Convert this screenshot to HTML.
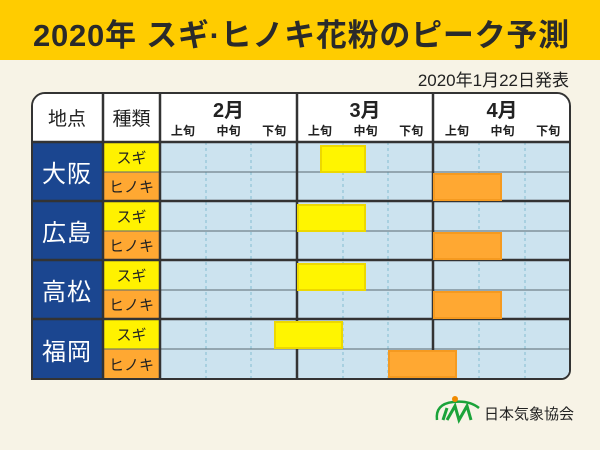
<!DOCTYPE html>
<html><head><meta charset="utf-8"><style>
*{margin:0;padding:0;box-sizing:border-box}
body{width:600px;height:450px;background:#F7F3E6;position:relative;overflow:hidden;font-family:"Liberation Sans","Noto Sans CJK JP",sans-serif;color:#222}
.a{position:absolute}
.c{display:flex;align-items:center;justify-content:center}
</style></head><body>
<div class="a" style="left:0;top:0;width:600px;height:60px;background:#FFCC00"></div>
<div class="a" style="left:33px;top:10px;font-size:31px;font-weight:bold;letter-spacing:0.75px;white-space:nowrap;color:#2a2a2a">2020年 スギ·ヒノキ花粉のピーク予測</div>
<div class="a" style="right:31px;top:66px;font-size:17px;white-space:nowrap">2020年1月22日発表</div>

<div class="a" style="left:31px;top:92px;width:540px;height:288px;border:2.5px solid #333;border-radius:14px 14px 10px 0;overflow:hidden;background:#fff">
<svg class="a" style="left:-2.5px;top:-2.5px" width="540" height="288">
<rect x="0" y="0" width="540" height="288" fill="#fff"/>
<rect x="0" y="50" width="72" height="238" fill="#1B4690"/>
<g fill="#FFF200"><rect x="72" y="50" width="57" height="30"/><rect x="72" y="109" width="57" height="30"/><rect x="72" y="168" width="57" height="30"/><rect x="72" y="227" width="57" height="30"/></g>
<g fill="#FFA832"><rect x="72" y="80" width="57" height="29"/><rect x="72" y="139" width="57" height="29"/><rect x="72" y="198" width="57" height="29"/><rect x="72" y="257" width="57" height="31"/></g>
<rect x="129" y="50" width="411" height="238" fill="#CCE3EF"/>
<g stroke="#9CC9DB" stroke-width="1.5" stroke-dasharray="3,3">
<line x1="175" y1="50" x2="175" y2="288"/><line x1="220" y1="50" x2="220" y2="288"/>
<line x1="312" y1="50" x2="312" y2="288"/><line x1="357" y1="50" x2="357" y2="288"/>
<line x1="448" y1="50" x2="448" y2="288"/><line x1="494" y1="50" x2="494" y2="288"/>
</g>
<g stroke="#5a6a72" stroke-width="1"><line x1="72" y1="80" x2="540" y2="80"/><line x1="72" y1="139" x2="540" y2="139"/><line x1="72" y1="198" x2="540" y2="198"/><line x1="72" y1="257" x2="540" y2="257"/></g>
<g stroke="#333" stroke-width="2.5">
<line x1="0" y1="50" x2="540" y2="50"/><line x1="0" y1="109" x2="540" y2="109"/><line x1="0" y1="168" x2="540" y2="168"/><line x1="0" y1="227" x2="540" y2="227"/>
<line x1="72" y1="0" x2="72" y2="288"/><line x1="129" y1="0" x2="129" y2="288"/><line x1="266" y1="0" x2="266" y2="288"/><line x1="402" y1="0" x2="402" y2="288"/>
</g>
<g fill="#FFF500" stroke="#EDD800" stroke-width="2">
<rect x="290" y="54" width="44" height="26"/><rect x="267" y="113" width="67" height="26"/><rect x="267" y="172" width="67" height="26"/><rect x="244" y="230" width="67" height="26"/></g>
<g fill="#FFA832" stroke="#F59A20" stroke-width="2">
<rect x="403" y="82" width="67" height="26"/><rect x="403" y="141" width="67" height="26"/><rect x="403" y="200" width="67" height="26"/><rect x="358" y="259" width="67" height="26"/></g>
</svg>
</div>
<div class="a" style="left:31px;top:92px;width:540px;height:288px;font-size:0">
<div class="a c" style="left:0;top:0;width:72px;height:50px;font-size:19px">地点</div>
<div class="a c" style="left:72px;top:0;width:57px;height:50px;font-size:19px">種類</div>
<div class="a" style="left:129px;top:2px;width:137px;text-align:center;font-size:20px;font-weight:bold">2月</div>
<div class="a" style="left:266px;top:2px;width:136px;text-align:center;font-size:20px;font-weight:bold">3月</div>
<div class="a" style="left:402px;top:2px;width:138px;text-align:center;font-size:20px;font-weight:bold">4月</div>
<div class="a" style="left:129px;top:30px;width:411px;font-size:12px;font-weight:bold;display:grid;grid-template-columns:repeat(9,1fr);text-align:center"><span>上旬</span><span>中旬</span><span>下旬</span><span>上旬</span><span>中旬</span><span>下旬</span><span>上旬</span><span>中旬</span><span>下旬</span></div>
<div class="a c" style="left:0;top:50px;width:72px;height:59px;font-size:24px;color:#fff;letter-spacing:1px">大阪</div>
<div class="a c" style="left:0;top:109px;width:72px;height:59px;font-size:24px;color:#fff;letter-spacing:1px">広島</div>
<div class="a c" style="left:0;top:168px;width:72px;height:59px;font-size:24px;color:#fff;letter-spacing:1px">高松</div>
<div class="a c" style="left:0;top:227px;width:72px;height:61px;font-size:24px;color:#fff;letter-spacing:1px">福岡</div>
<div class="a c" style="left:72px;top:50px;width:57px;height:30px;font-size:15px">スギ</div>
<div class="a c" style="left:72px;top:80px;width:57px;height:29px;font-size:15px">ヒノキ</div>
<div class="a c" style="left:72px;top:109px;width:57px;height:30px;font-size:15px">スギ</div>
<div class="a c" style="left:72px;top:139px;width:57px;height:29px;font-size:15px">ヒノキ</div>
<div class="a c" style="left:72px;top:168px;width:57px;height:30px;font-size:15px">スギ</div>
<div class="a c" style="left:72px;top:198px;width:57px;height:29px;font-size:15px">ヒノキ</div>
<div class="a c" style="left:72px;top:227px;width:57px;height:30px;font-size:15px">スギ</div>
<div class="a c" style="left:72px;top:257px;width:57px;height:31px;font-size:15px">ヒノキ</div>
</div>
<svg class="a" style="left:433px;top:396px" width="50" height="30">
<path d="M4 24 Q2 8 20 6 Q36 4 46 12" fill="none" stroke="#1BA33A" stroke-width="2.5"/>
<path d="M10 24 L14 12 M14 24 L22 10 L26 24 L34 10 L38 24" fill="none" stroke="#1BA33A" stroke-width="3"/>
<circle cx="22" cy="3" r="3" fill="#F08A00"/>
</svg>
<div class="a" style="left:484px;top:403px;font-size:15px;white-space:nowrap">日本気象協会</div>
</body></html>
